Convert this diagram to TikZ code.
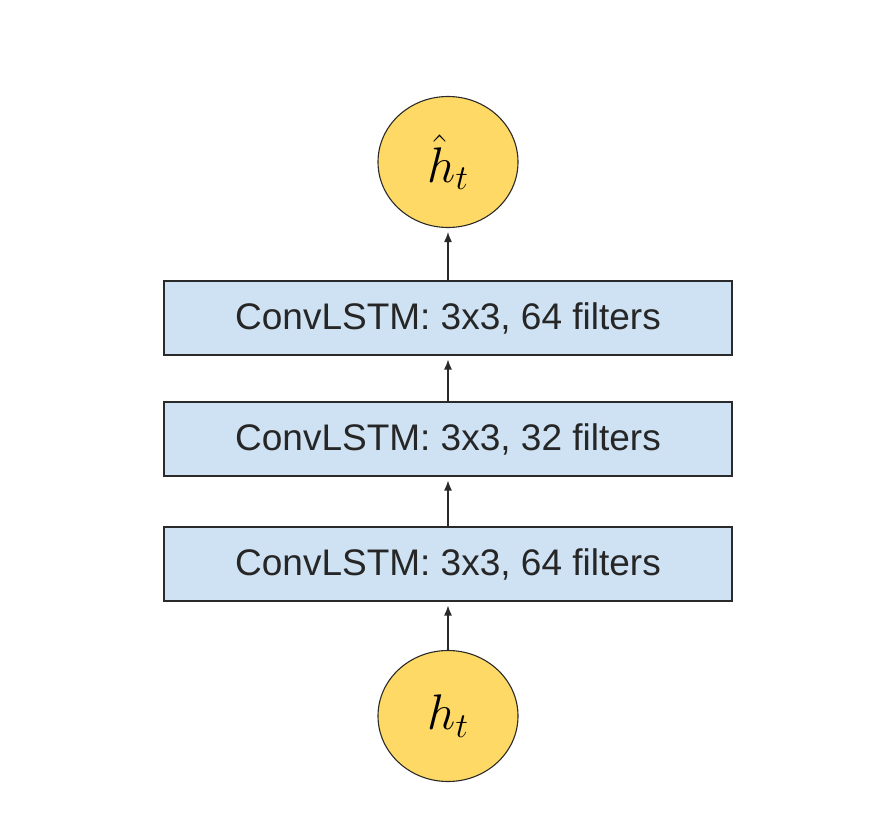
\RequirePackage{fix-cm}
\documentclass[tikz,border=0pt]{standalone}
\usepackage{amsmath,amssymb}
\usepackage{fontspec}
\setmainfont{Liberation Sans}
\usepackage{xcolor}
\usepackage{tikz}
\usetikzlibrary{arrows.meta,shapes.geometric}
\definecolor{edge}{HTML}{2A2A2A}
\definecolor{layerfill}{HTML}{CFE2F3}
\definecolor{statefill}{HTML}{FFD966}
\tikzset{
  layer/.style={draw=edge, fill=layerfill, line width=1.1pt, minimum width=568pt,
    minimum height=74pt, inner sep=0pt, font=\fontsize{37}{42}\selectfont, text=black!85},
  state/.style={ellipse, draw=edge, fill=statefill, line width=1.1pt, minimum width=140pt,
    minimum height=131pt, inner sep=0pt, font=\fontsize{50}{60}\selectfont},
  flow/.style={-{Latex[length=10pt,width=8pt]}, line width=1.2pt, draw=edge, shorten >=4pt}
}
\begin{document}
\begin{tikzpicture}[x=1pt, y=-1pt]
  \useasboundingbox (0,0) rectangle (873,832);
  % states
  \node[state] (hout) at (448,162) {$\hat{h}_t$};
  \node[state] (hin) at (448,716) {$h_t$};

  % layers
  \node[layer] (lstmA) at (448,318) {ConvLSTM: 3x3, 64 filters};
  \node[layer] (lstmB) at (448,439) {ConvLSTM: 3x3, 32 filters};
  \node[layer] (lstmC) at (448,564) {ConvLSTM: 3x3, 64 filters};

  % flow
  \draw[flow] (hin.north) -- (lstmC.south);
  \draw[flow] (lstmC.north) -- (lstmB.south);
  \draw[flow] (lstmB.north) -- (lstmA.south);
  \draw[flow] (lstmA.north) -- (hout.south);
\end{tikzpicture}
\end{document}
